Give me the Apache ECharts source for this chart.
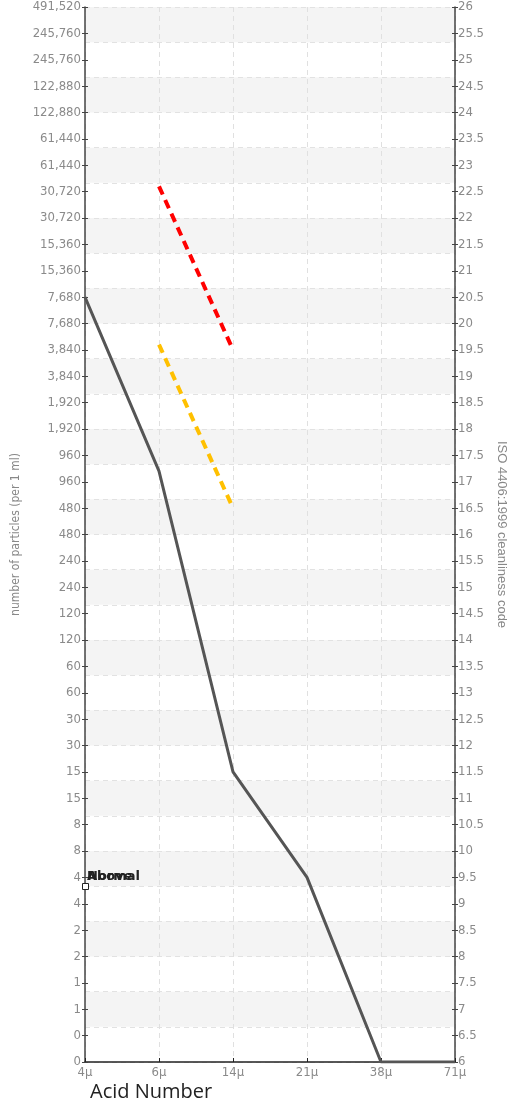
<!DOCTYPE html>
<html>
<head>
<meta charset="utf-8">
<script src="https://cdn.jsdelivr.net/npm/echarts@6/dist/echarts.min.js"></script>
<style>
html,body{margin:0;padding:0;background:#fff;overflow:hidden;}
#chart{width:508px;height:1104px;}
</style>
</head>
<body>
<div id="chart"></div>
<script>
// ---- data ----
const categories = ['4μ', '6μ', '14μ', '21μ', '38μ', '71μ'];
const sampleCode = [20.5, 17.2, 11.5, 9.5, 6, 6];
const aboveLimit = [null, 22.6, 19.5, null, null, null];
const normalLimit = [null, 19.6, 16.5, null, null, null];
// left tick labels, bottom (code 6) to top (code 26), one per 0.5 step
const leftTickLabels = ['0','0','1','1','2','2','4','4','8','8','15','15','30','30','60','60',
  '120','120','240','240','480','480','960','960','1,920','1,920','3,840','3,840','7,680','7,680',
  '15,360','15,360','30,720','30,720','61,440','61,440','122,880','122,880','245,760','245,760','491,520'];
const codeMin = 6, codeMax = 26, codeStep = 0.5;
const legendNames = ['Above', 'Normal'];

const chart = echarts.init(document.getElementById('chart'));
const condFont = "'Liberation Sans Narrow', 'DejaVu Sans Condensed', sans-serif";
const tickFont = {fontFamily: condFont, fontSize: 13, color: '#8a8a8a'};
const axisCol = '#444';
const legendText = {color: '#222', fontWeight: 'bold', fontSize: 13, fontFamily: 'DejaVu Sans'};

const option = {
  backgroundColor: '#fff',
  animation: false,
  title: {
    text: 'Acid Number', left: 90, top: 1082, padding: 0,
    textStyle: {fontFamily: 'Open Sans', fontSize: 20, fontWeight: 'normal', color: '#222'}
  },
  legend: [
    {data: [legendNames[0]], left: 82, top: 870, icon: 'none', itemWidth: 0, itemHeight: 0,
     padding: 0, textStyle: legendText},
    {data: [legendNames[1]], left: 82, top: 870, icon: 'none', itemWidth: 0, itemHeight: 0,
     padding: 0, textStyle: legendText},
    {data: [legendNames[0]], left: 82, top: 883, icon: 'rect', itemWidth: 6, itemHeight: 6,
     padding: 0, formatter: () => '', selectedMode: false,
     itemStyle: {color: '#fff', borderColor: '#222', borderWidth: 1}}
  ],
  grid: {left: 85, right: 53, top: 7, bottom: 42, containLabel: false, outerBoundsMode: 'none'},
  xAxis: [{
    type: 'category', data: categories, boundaryGap: false,
    axisLine: {lineStyle: {color: '#222', width: 1.5}},
    axisTick: {inside: true, length: 4, lineStyle: {color: '#222'}},
    axisLabel: Object.assign({margin: 4}, tickFont, {fontSize: 13}),
    splitLine: {show: true, lineStyle: {color: '#e0e0e0', type: [5, 4]}}
  }],
  yAxis: [
    {type: 'value', position: 'left', min: codeMin, max: codeMax, interval: codeStep,
     axisLine: {show: true, lineStyle: {color: axisCol, width: 1.5}},
     axisTick: {show: true, length: 3, lineStyle: {color: axisCol}},
     axisLabel: Object.assign({margin: 4, formatter: v => leftTickLabels[Math.round((v - codeMin) / codeStep)]}, tickFont),
     splitLine: {show: false},
     name: 'number of particles (per 1 ml)', nameLocation: 'middle', nameGap: 51, nameRotate: 90,
     nameTextStyle: {fontFamily: condFont, fontSize: 12, color: '#888'}},
    {type: 'value', position: 'right', min: codeMin, max: codeMax, interval: codeStep,
     axisLine: {show: true, lineStyle: {color: axisCol, width: 1.5}},
     axisTick: {show: true, length: 3, lineStyle: {color: axisCol}},
     axisLabel: Object.assign({margin: 3}, tickFont),
     splitLine: {show: false},
     name: 'ISO 4406:1999 cleanliness code', nameLocation: 'middle', nameGap: 38, nameRotate: -90,
     nameTextStyle: {fontFamily: 'Liberation Sans', fontSize: 13, color: '#888'}},
    {type: 'value', position: 'left', min: 0, max: 30, interval: 1,
     axisLine: {show: false}, axisTick: {show: false}, axisLabel: {show: false},
     splitLine: {show: true, lineStyle: {color: '#e2e2e2', type: [5, 4]}},
     splitArea: {show: true, areaStyle: {color: ['rgba(255,255,255,0)', '#f4f4f4']}}},
    {type: 'value', position: 'left', min: codeMin, max: codeMax, interval: codeStep,
     axisLine: {show: false}, axisLabel: {show: false}, splitLine: {show: false},
     axisTick: {show: true, inside: true, length: 3, lineStyle: {color: axisCol}}},
    {type: 'value', position: 'right', min: codeMin, max: codeMax, interval: codeStep,
     axisLine: {show: false}, axisLabel: {show: false}, splitLine: {show: false},
     axisTick: {show: true, inside: true, length: 3, lineStyle: {color: axisCol}}}
  ],
  series: [
    {name: 'Sample', type: 'line', yAxisIndex: 1, data: sampleCode, showSymbol: false,
     lineStyle: {color: '#555', width: 3}, itemStyle: {color: '#555'}, z: 5},
    {name: legendNames[0], type: 'line', yAxisIndex: 1, data: aboveLimit, showSymbol: false,
     lineStyle: {color: '#ff0000', width: 4, type: [9, 6]}, itemStyle: {color: '#ff0000'}, z: 4},
    {name: legendNames[1], type: 'line', yAxisIndex: 1, data: normalLimit, showSymbol: false,
     lineStyle: {color: '#ffc000', width: 4, type: [9, 6]}, itemStyle: {color: '#ffc000'}, z: 4}
  ]
};
chart.setOption(option);
</script>
</body>
</html>
